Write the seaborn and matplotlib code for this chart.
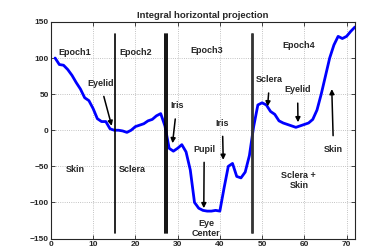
import numpy as np
import pandas as pd
import seaborn as sns
import matplotlib.pyplot as plt

# Data
frame = list(range(1, 73))
projection = [100, 91, 90, 84, 76, 66, 57, 45, 41, 30,
              16, 12, 12, 2, 0, 0, -1, -3, 0, 5,
              7, 9, 13, 15, 20, 23, 6, -25, -29, -25,
              -20, -30, -55, -100, -108, -111, -112, -112, -111, -112,
              -80, -50, -46, -64, -66, -58, -35, 5, 35, 38,
              35, 26, 22, 13, 10, 8, 6, 4, 6, 8,
              10, 15, 28, 50, 75, 100, 118, 130, 127, 130,
              137, 143]

# epoch borders (x, color, width)
borders = [(15.15, 'black', 1.2), (27.05, 'black', 1.3), (27.45, 'black', 1.3),
           (47.5, '#333333', 1.3), (47.95, '#333333', 1.3)]

epoch_labels = ['Epoch1', 'Epoch2', 'Epoch3', 'Epoch4']
epoch_pos = [(5.6, 108), (20.1, 108), (36.9, 111), (58.7, 117)]

region_labels = ['Skin', 'Sclera', 'Eye\nCenter', 'Sclera +\nSkin']
region_pos = [(5.7, -54), (19.2, -54), (36.8, -136), (58.7, -70)]

# (text, text pos, arrow head)
arrows = [('Eyelid', (11.7, 65), (14.4, 6)),
          ('Iris', (29.8, 34), (28.8, -18)),
          ('Pupil', (36.3, -26), (36.2, -108)),
          ('Iris', (40.6, 10), (40.8, -41)),
          ('Sclera', (51.8, 70), (51.3, 33)),
          ('Eyelid', (58.4, 56), (58.5, 11)),
          ('Skin', (66.9, -26), (66.5, 57))]

df = pd.DataFrame({'frame': frame, 'projection': projection})

sns.set_style('ticks')
plt.rcParams['font.family'] = ['Liberation Sans', 'DejaVu Sans']
plt.rcParams['font.weight'] = 'bold'

fig = plt.figure(figsize=(3.66, 2.49), dpi=100)
ax = fig.add_axes([0.139, 0.042, 0.831, 0.870])

sns.lineplot(data=df, x='frame', y='projection', color='blue', linewidth=2.0, ax=ax)

for bx, bc, bw in borders:
    ax.plot([bx, bx], [-142, 133], color=bc, linewidth=bw)

for lab, (tx, ty) in zip(epoch_labels, epoch_pos):
    ax.text(tx, ty, lab, ha='center', va='center', fontsize=6.5, fontweight='bold')
for lab, (tx, ty) in zip(region_labels, region_pos):
    ax.text(tx, ty, lab, ha='center', va='center', fontsize=6.5, fontweight='bold',
            linespacing=1.1)
for lab, (tx, ty), (hx, hy) in arrows:
    ax.annotate(lab, xy=(hx, hy), xytext=(tx, ty), ha='center', va='center',
                fontsize=6.5, fontweight='bold',
                arrowprops=dict(arrowstyle='-|>', color='black', lw=1.1,
                                mutation_scale=7, shrinkA=4, shrinkB=0))

ax.set_xlim(0, 72)
ax.set_ylim(-150, 150)
ax.set_xticks(np.arange(0, 71, 10))
ax.set_yticks(np.arange(-150, 151, 50))
ax.grid(True, linestyle=':', color='#b0b0b0', linewidth=0.6)
ax.tick_params(direction='in', labelsize=6, length=3, width=0.6, pad=1.5,
               top=True, right=True)
for lbl in ax.get_xticklabels() + ax.get_yticklabels():
    lbl.set_fontweight('bold')
for s in ax.spines.values():
    s.set_linewidth(0.8)
    s.set_visible(True)
ax.set_xlabel('')
ax.set_ylabel('')
ax.set_title('Integral horizontal projection', fontsize=6.8, fontweight='bold', pad=3)

fig.savefig('out.png', dpi=100)
